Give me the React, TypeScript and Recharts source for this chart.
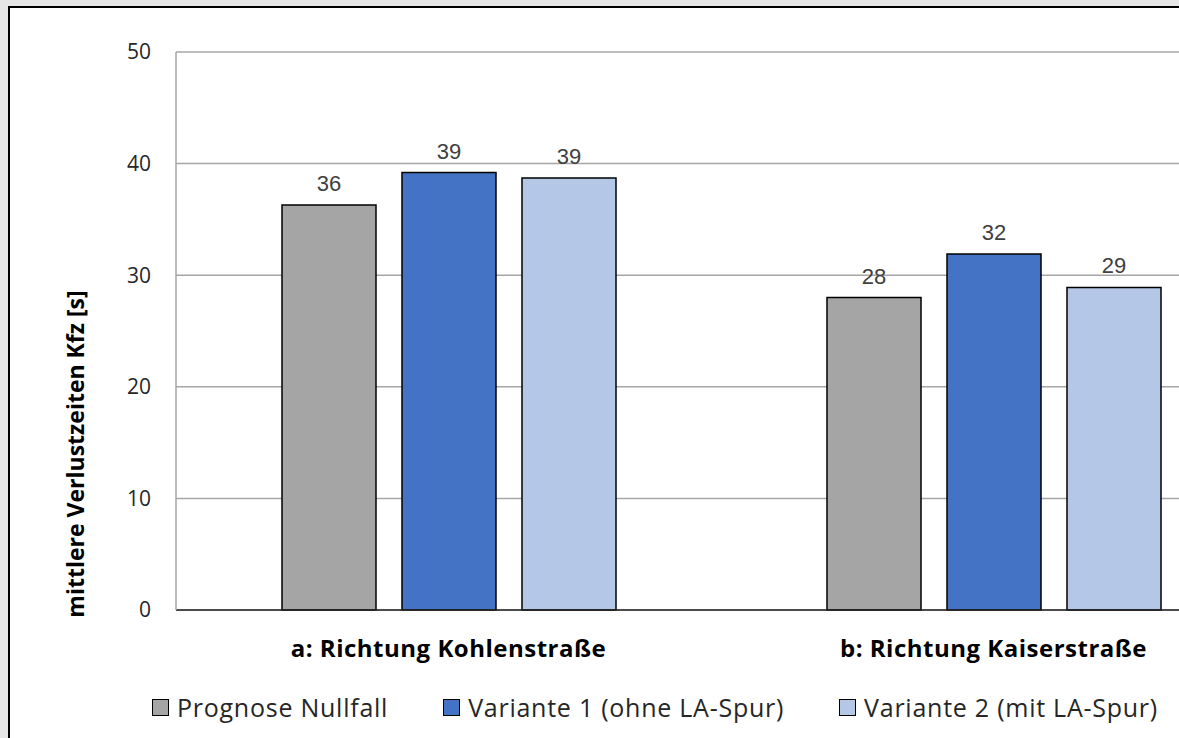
import { Bar, BarChart, CartesianGrid, LabelList, Legend, XAxis, YAxis } from "recharts";

const categories = ["a: Richtung Kohlenstraße", "b: Richtung Kaiserstraße"];
const nullfall = [36.3, 28.0];
const variante1 = [39.2, 31.9];
const variante2 = [38.7, 28.9];
const seriesNames = ["Prognose Nullfall", "Variante 1 (ohne LA-Spur)", "Variante 2 (mit LA-Spur)"];
const seriesColors = ["#a5a5a5", "#4472c4", "#b4c7e7"];
const yTicks = [0, 10, 20, 30, 40, 50];

const data = categories.map((name, i) => ({
  name,
  nullfall: nullfall[i],
  variante1: variante1[i],
  variante2: variante2[i],
}));

const keys = ["nullfall", "variante1", "variante2"];

const boldFont = "'Open Sans', 'Noto Sans', sans-serif";
const textFont = "'Open Sans', 'Noto Sans', sans-serif";

function LegendRow() {
  return (
    <div style={{ display: "flex", height: 30, alignItems: "center", paddingLeft: 142 }}>
      {seriesNames.map((n, i) => (
        <div key={n} style={{ display: "flex", alignItems: "center", marginRight: 55 }}>
          <span
            style={{
              width: 15,
              height: 15,
              background: seriesColors[i],
              border: "1.5px solid #000",
              marginRight: 8,
            }}
          />
          <span style={{ fontFamily: textFont, fontSize: 25, letterSpacing: 0.75, color: "#262626" }}>{n}</span>
        </div>
      ))}
    </div>
  );
}

function YTitle() {
  const x = 74;
  const y = 446;
  return (
    <text
      x={x}
      y={y}
      transform={`rotate(-90 ${x} ${y})`}
      textAnchor="middle"
      fontFamily={boldFont}
      fontWeight={700}
      fontSize={23}
      fill="#000"
    >
      mittlere Verlustzeiten Kfz [s]
    </text>
  );
}

export default function App() {
  return (
    <div
      style={{
        position: "fixed",
        left: 0,
        top: 0,
        right: 0,
        bottom: 0,
        background: "#e6e6e6",
        overflow: "hidden",
      }}
    >
      <div
        style={{
          position: "absolute",
          left: 8,
          top: 6,
          width: 1300,
          height: 800,
          borderLeft: "2px solid #000",
          borderTop: "2px solid #000",
          background: "#fff",
        }}
      >
        <BarChart
          width={1288}
          height={728}
          data={data}
          margin={{ top: 44, right: 32, left: 0, bottom: 46 }}
          barSize={94}
          barGap={26}
        >
          <CartesianGrid vertical={false} stroke="#a6a6a6" strokeWidth={1.5} />
          <XAxis
            dataKey="name"
            height={50}
            tickSize={0}
            tickMargin={30}
            axisLine={{ stroke: "#262626", strokeWidth: 1.5 }}
            tick={{ fontFamily: boldFont, fontWeight: 700, fontSize: 24, letterSpacing: 0.5, fill: "#000" }}
          />
          <YAxis
            width={166}
            domain={[0, 50]}
            ticks={yTicks}
            tickSize={0}
            tickMargin={25}
            axisLine={{ stroke: "#a6a6a6", strokeWidth: 1.5 }}
            tickLine={false}
            tick={{ fontFamily: textFont, fontSize: 21, fill: "#262626" }}
            label={<YTitle />}
          />
          <Legend content={<LegendRow />} wrapperStyle={{ top: 684, left: 0, width: 1288 }} />
          {keys.map((k, i) => (
            <Bar
              key={k}
              dataKey={k}
              name={seriesNames[i]}
              fill={seriesColors[i]}
              stroke="#000"
              strokeWidth={1.5}
              isAnimationActive={false}
            >
              <LabelList
                dataKey={k}
                position="top"
                offset={14}
                formatter={(v: any) => Math.round(Number(v))}
                style={{ fontFamily: "'Liberation Sans', Arial, sans-serif", fontSize: 22, fill: "#404040" }}
              />
            </Bar>
          ))}
        </BarChart>
      </div>
    </div>
  );
}
